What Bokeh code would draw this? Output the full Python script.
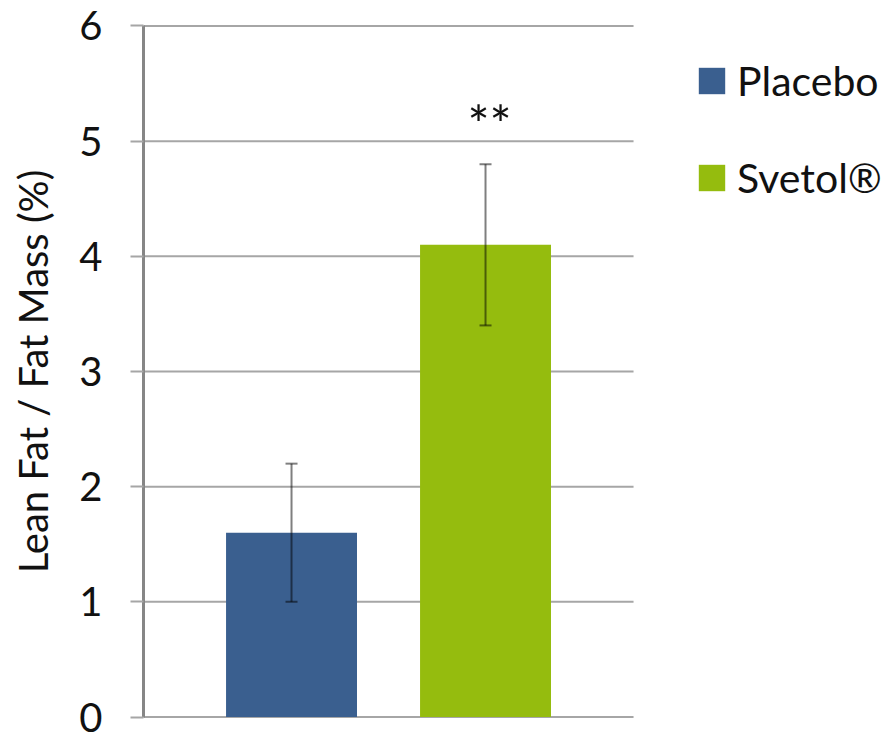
from bokeh.plotting import figure
from bokeh.models import (ColumnDataSource, Range1d, Whisker, TeeHead, Legend,
                          LegendItem, FixedTicker)
from bokeh.core.properties import value
from bokeh.embed import file_html
from bokeh.resources import INLINE

# ---- data ----
categories = ["Placebo", "Svetol®"]
means = [1.6, 4.1]
err_low = [1.0, 3.4]
err_high = [2.2, 4.8]
bar_colors = ["#3A5F8F", "#95BC0E"]
y_ticks = [0, 1, 2, 3, 4, 5, 6]
signif_labels = ["", "**"]

FONT = "Lato"
xs = list(range(1, len(categories) + 1))

X0, X1 = 0.237, 2.763  # extent of the plotting area (gridlines)

src = ColumnDataSource(dict(x=xs, top=means, lo=err_low, hi=err_high,
                            color=bar_colors, cat=categories))

p = figure(width=881, height=732, output_backend="svg", toolbar_location=None,
           x_range=Range1d(X0, X0 + 738 / 194), y_range=Range1d(-0.03, 6.03),
           x_axis_location=None, min_border_left=143, min_border_right=0,
           min_border_top=22, min_border_bottom=12)
p.outline_line_color = None
p.background_fill_color = "white"
p.border_fill_color = "white"

# grid lines restricted to the chart area
p.xgrid.visible = False
p.ygrid.visible = False
p.segment(x0=[X0] * len(y_ticks), x1=[X1] * len(y_ticks), y0=y_ticks, y1=y_ticks,
          line_color="#A6A6A6", line_width=2, level="underlay")

# y axis
ax = p.yaxis[0]
ax.ticker = FixedTicker(ticks=y_ticks)
ax.bounds = (0, 6)
ax.axis_line_color = "#868686"
ax.axis_line_width = 3
ax.major_tick_line_color = "#A6A6A6"
ax.major_tick_line_width = 2
ax.major_tick_out = 13
ax.major_tick_in = 0
ax.minor_tick_line_color = None
ax.major_label_text_font = FONT
ax.major_label_text_font_size = "40px"
ax.major_label_text_color = "#111111"
ax.major_label_standoff = 28
ax.axis_label = "Lean Fat / Fat Mass (%)"
ax.axis_label_text_font = FONT
ax.axis_label_text_font_size = "40px"
ax.axis_label_text_font_style = "normal"
ax.axis_label_text_color = "#111111"
ax.axis_label_standoff = 19

# bars
bars = p.vbar(x="x", top="top", bottom=0, width=0.675, color="color",
              line_color=None, source=src)

# error bars
wh = Whisker(base="x", lower="lo", upper="hi", source=src, level="overlay",
             line_color="black", line_alpha=0.5, line_width=2,
             upper_head=TeeHead(size=12, line_color="black", line_alpha=0.5, line_width=2),
             lower_head=TeeHead(size=12, line_color="black", line_alpha=0.5, line_width=2))
p.add_layout(wh)

# significance marks above error bars
sig_src = ColumnDataSource(dict(x=xs, y=[h + 0.35 for h in err_high], t=signif_labels))
p.text(x="x", y="y", text="t", source=sig_src, text_align="center",
       text_baseline="alphabetic", text_font=value(FONT), text_font_size="52px",
       text_color="#111111", x_offset=4)

# legend
items = [LegendItem(label=c, renderers=[bars], index=i) for i, c in enumerate(categories)]
legend = Legend(items=items, location=(552, 518), padding=0, margin=0,
                border_line_color=None, background_fill_alpha=0,
                glyph_width=33, glyph_height=33, label_standoff=9,
                label_text_font=FONT, label_text_font_size="41px",
                label_text_color="#111111", spacing=48)
p.add_layout(legend)

open("out.html", "w").write(file_html(p, INLINE))
